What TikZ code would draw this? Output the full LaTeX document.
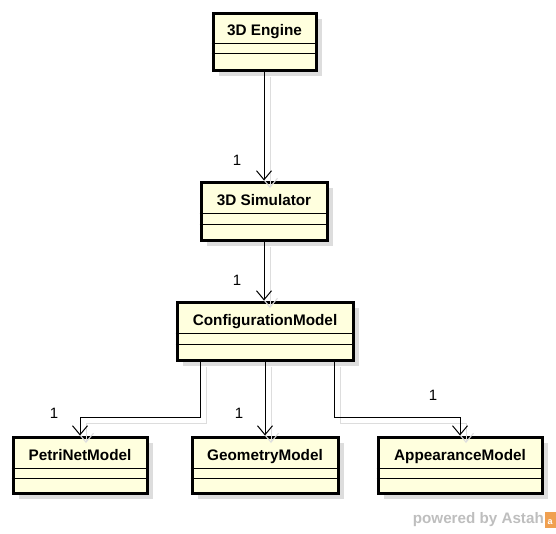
\documentclass[tikz,border=0pt]{standalone}
\usepackage{fontspec}
\setmainfont{Liberation Sans}
\usetikzlibrary{arrows.meta}
\definecolor{boxfill}{RGB}{255,255,222}
\definecolor{shadowgray}{RGB}{221,221,221}
\definecolor{wmgray}{RGB}{190,190,190}
\definecolor{astahorange}{RGB}{240,160,80}
\tikzset{
  umlclass/.style={draw=black, line width=3pt, fill=boxfill, minimum width=#1, inner sep=0pt},
  titletext/.style={font=\bfseries\fontsize{15.3}{17}\selectfont, inner sep=0pt, anchor=base},
  sepline/.style={line width=1pt, black},
  conn/.style={line width=1pt, black, -{Straight Barb[length=9pt,width=15pt,line width=1pt]}},
  connshadow/.style={line width=1pt, shadowgray, -{Straight Barb[length=9pt,width=15pt,line width=1pt]}},
  mult/.style={font=\fontsize{15}{17}\selectfont, inner sep=0pt},
}
\begin{document}
\begin{tikzpicture}[x=1pt,y=-1pt]
\useasboundingbox (0,0) rectangle (556,533);
% shadows of boxes
\fill[shadowgray] (219,19) rectangle (322,76);
\fill[shadowgray] (207,188) rectangle (333,246);
\fill[shadowgray] (183,308) rectangle (359,366);
\fill[shadowgray] (19,443) rectangle (153,499);
\fill[shadowgray] (198,443) rectangle (344,499);
\fill[shadowgray] (384,443) rectangle (548,499);
% boxes
\node[umlclass=103pt, minimum height=57pt] (eng) at (264.5,41.5) {};
\node[umlclass=126pt, minimum height=58pt] (sim) at (264,211) {};
\node[umlclass=176pt, minimum height=58pt] (cfg) at (265,331) {};
\node[umlclass=134pt, minimum height=56pt] (pn) at (80,465) {};
\node[umlclass=146pt, minimum height=56pt] (geo) at (265,465) {};
\node[umlclass=164pt, minimum height=56pt] (app) at (460,465) {};
% titles
\node[titletext] (engt) at (264.5,35) {3D Engine};
\node[titletext] (simt) at (264,205) {3D Simulator};
\node[titletext] (cfgt) at (265,325) {ConfigurationModel};
\node[titletext] (pnt) at (80,460) {PetriNetModel};
\node[titletext] (geot) at (265,460) {GeometryModel};
\node[titletext] (appt) at (460,460) {AppearanceModel};
% compartment separators
\draw[sepline] (eng.west |- 0,43) -- (eng.east |- 0,43) (eng.west |- 0,53) -- (eng.east |- 0,53);
\draw[sepline] (sim.west |- 0,213) -- (sim.east |- 0,213) (sim.west |- 0,224) -- (sim.east |- 0,224);
\draw[sepline] (cfg.west |- 0,333) -- (cfg.east |- 0,333) (cfg.west |- 0,344) -- (cfg.east |- 0,344);
\draw[sepline] (pn.west |- 0,468) -- (pn.east |- 0,468) (pn.west |- 0,478) -- (pn.east |- 0,478);
\draw[sepline] (geo.west |- 0,468) -- (geo.east |- 0,468) (geo.west |- 0,478) -- (geo.east |- 0,478);
\draw[sepline] (app.west |- 0,468) -- (app.east |- 0,468) (app.west |- 0,478) -- (app.east |- 0,478);
% connector shadows
\draw[connshadow] (270,77) -- (270,188);
\draw[connshadow] (270,247) -- (270,308);
\draw[connshadow] (206,367) -- (206,423) -- (86,423) -- (86,443);
\draw[connshadow] (271,367) -- (271,443);
\draw[connshadow] (340,367) -- (340,423) -- (466,423) -- (466,443);
% coordinates for connectors
\coordinate (c1) at (200,417);
\coordinate (c2) at (80,417);
\coordinate (c3) at (334,417);
\coordinate (c4) at (460,417);
% connectors
\draw[conn] (eng.south -| 264,0) -- (sim.north -| 264,0);
\draw[conn] (sim.south -| 264,0) -- (cfg.north -| 264,0);
\draw[conn] (cfg.south -| 200,0) -- (c1) -- (c2) -- (pn.north);
\draw[conn] (cfg.south) -- (geo.north);
\draw[conn] (cfg.south -| 334,0) -- (c3) -- (c4) -- (app.north);
% multiplicities
\node[mult] (m1) at (237,160) {1};
\node[mult] (m2) at (237,280) {1};
\node[mult] (m3) at (54,413) {1};
\node[mult] (m4) at (239,413) {1};
\node[mult] (m5) at (433,395) {1};
% watermark
\node[font=\bfseries\fontsize{15.2}{17}\selectfont, text=wmgray, anchor=east, inner sep=0pt] (wm) at (544,519.5) {powered by Astah};
\fill[astahorange] (545,512) rectangle (556,528);
\node[font=\bfseries\fontsize{9}{10}\selectfont, text=white, inner sep=0pt] (wmi) at (550,522) {a};
\end{tikzpicture}
\end{document}
